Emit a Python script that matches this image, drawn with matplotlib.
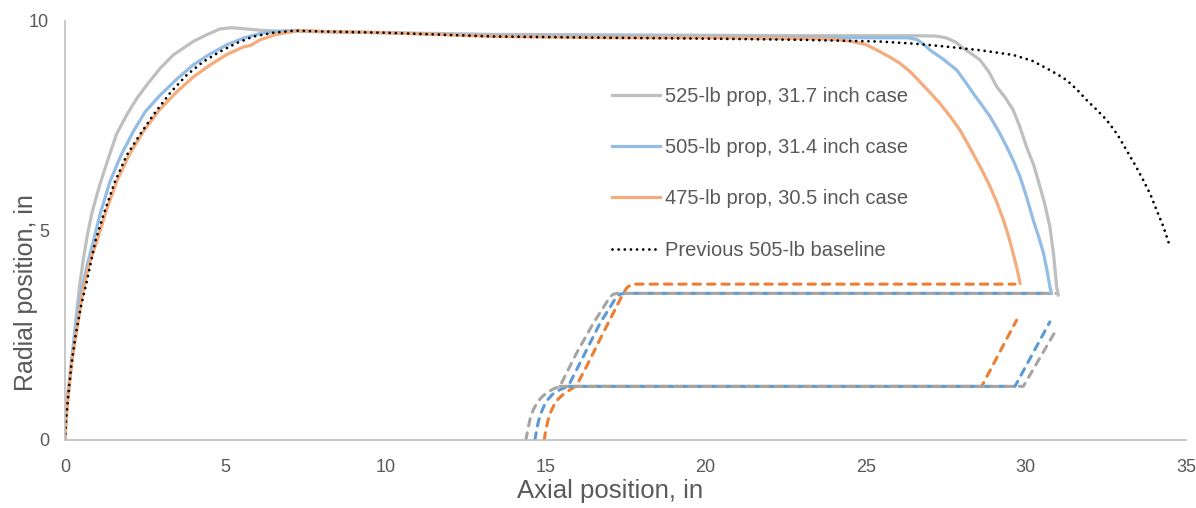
import matplotlib
matplotlib.use("Agg")
import matplotlib.pyplot as plt

plt.rcParams['font.family'] = ['Liberation Sans', 'DejaVu Sans']

# ---- data ----
x_525 = [0, 0.03, 0.08, 0.16, 0.26, 0.35, 0.45, 0.57, 0.7, 0.85, 1.09, 1.3, 1.61, 1.92, 2.24, 2.55,
         2.97, 3.38, 4.0, 4.42, 4.84, 5.2, 5.67, 6.09, 6.6, 7.2, 8, 10, 13.4, 17, 20, 23, 25, 26.5,
         27.2, 27.5, 27.8, 28.04, 28.3, 28.57, 28.85, 29.09, 29.35, 29.6, 29.8, 30.02, 30.25, 30.44,
         30.6, 30.75, 30.87, 30.96, 31.01]
y_525 = [0, 0.6, 1.1, 1.5, 2.19, 2.95, 3.65, 4.3, 4.9, 5.45, 6.1, 6.6, 7.3, 7.75, 8.15, 8.47,
         8.87, 9.19, 9.51, 9.67, 9.81, 9.84, 9.81, 9.78, 9.76, 9.76, 9.74, 9.72, 9.68, 9.67, 9.66,
         9.65, 9.65, 9.65, 9.64, 9.6, 9.5, 9.35, 9.22, 9.07, 8.78, 8.43, 8.18, 7.88, 7.5, 7.0, 6.55,
         6.05, 5.6, 5.09, 4.4, 3.66, 3.46]

x_505 = [0, 0.03, 0.1, 0.2, 0.31, 0.5, 0.7, 0.88, 1.1, 1.4, 1.75, 2.13, 2.5, 2.97, 3.5, 4.0, 4.5,
         5.05, 5.6, 6.09, 6.6, 7.2, 8, 10, 13.4, 17, 20, 23, 25, 26.3, 26.6, 26.8, 27.0, 27.4, 27.84,
         28.1, 28.36, 28.62, 28.88, 29.15, 29.4, 29.62, 29.82, 30.03, 30.23, 30.4, 30.55, 30.66,
         30.75, 30.8]
y_505 = [0, 0.5, 1.1, 1.9, 2.58, 3.5, 4.2, 4.73, 5.4, 6.16, 6.8, 7.36, 7.83, 8.23, 8.62, 8.95, 9.2,
         9.43, 9.6, 9.7, 9.75, 9.77, 9.75, 9.72, 9.65, 9.63, 9.62, 9.61, 9.6, 9.6, 9.56, 9.45, 9.31,
         9.1, 8.83, 8.56, 8.27, 8.0, 7.72, 7.37, 7.0, 6.65, 6.28, 5.78, 5.25, 4.85, 4.46, 4.05,
         3.66, 3.5]

x_475 = [0, 0.03, 0.1, 0.2, 0.36, 0.55, 0.75, 0.99, 1.3, 1.61, 2.0, 2.44, 2.95, 3.49, 4.0, 4.53,
         5.05, 5.57, 5.8, 6.09, 6.6, 7.3, 8, 10, 13.4, 17, 20, 23, 23.5, 24.0, 24.5, 25.0, 25.44,
         25.75, 26.07, 26.4, 26.69, 27.0, 27.32, 27.64, 27.94, 28.2, 28.46, 28.67, 28.88, 29.1, 29.3,
         29.46, 29.6, 29.72, 29.82]
y_475 = [0, 0.45, 1.05, 1.8, 2.58, 3.5, 4.2, 4.73, 5.5, 6.16, 6.8, 7.36, 7.88, 8.31, 8.66, 8.95,
         9.2, 9.38, 9.42, 9.55, 9.68, 9.77, 9.75, 9.72, 9.63, 9.6, 9.6, 9.58, 9.58, 9.56, 9.52, 9.44,
         9.27, 9.14, 8.99, 8.78, 8.55, 8.3, 8.03, 7.72, 7.4, 7.05, 6.68, 6.38, 6.05, 5.66, 5.25,
         4.86, 4.46, 4.1, 3.74]

x_base = [0, 0.03, 0.1, 0.2, 0.33, 0.5, 0.68, 0.95, 1.2, 1.55, 1.93, 2.35, 2.76, 3.3, 3.8, 4.3,
          4.84, 5.35, 5.88, 6.5, 7.2, 8, 10, 13.4, 17, 20, 23, 25.44, 26.5, 27.5, 28.6, 29.6, 30.2,
          30.65, 31.0, 31.27, 31.6, 31.9, 32.2, 32.52, 32.85, 33.14, 33.4, 33.66, 33.9, 34.08, 34.3,
          34.5]
y_base = [0, 0.45, 1.05, 1.8, 2.5, 3.2, 3.78, 4.75, 5.37, 6.15, 6.8, 7.3, 7.76, 8.3, 8.71, 9.02,
          9.27, 9.47, 9.63, 9.72, 9.77, 9.75, 9.72, 9.63, 9.6, 9.58, 9.55, 9.51, 9.46, 9.39, 9.3,
          9.19, 9.05, 8.87, 8.72, 8.59, 8.36, 8.11, 7.89, 7.64, 7.3, 6.92, 6.58, 6.21, 5.84, 5.49,
          5.08, 4.61]

# case / grain outlines (dashed, not in legend)
case525_up_x = [14.39, 14.45, 14.52, 14.62, 14.75, 14.88, 15.04, 15.25, 15.45, 15.97, 16.49, 17.02, 17.12, 17.25, 31.0]
case525_up_y = [0, 0.25, 0.5, 0.72, 0.9, 1.02, 1.13, 1.22, 1.28, 2.07, 2.78, 3.42, 3.48, 3.5, 3.5]
case525_lo_x = [15.45, 29.92, 30.91]
case525_lo_y = [1.28, 1.28, 2.58]

case505_up_x = [14.67, 14.72, 14.78, 14.86, 14.96, 15.08, 15.22, 15.45, 15.71, 16.18, 16.7, 17.22, 17.33, 17.48, 30.8]
case505_up_y = [0, 0.22, 0.44, 0.64, 0.82, 0.97, 1.09, 1.2, 1.28, 1.99, 2.78, 3.42, 3.48, 3.5, 3.5]
case505_lo_x = [15.71, 29.66, 30.75]
case505_lo_y = [1.28, 1.28, 2.82]

case475_up_x = [14.96, 15.01, 15.07, 15.15, 15.26, 15.4, 15.57, 15.77, 15.97, 16.28, 16.8, 17.43, 17.55, 17.7, 29.66]
case475_up_y = [0, 0.22, 0.44, 0.64, 0.82, 0.98, 1.1, 1.2, 1.3, 1.75, 2.55, 3.5, 3.64, 3.72, 3.72]
case475_lo_x = [15.97, 28.62, 29.71]
case475_lo_y = [1.28, 1.28, 2.86]

labels = ["525-lb prop, 31.7 inch case", "505-lb prop, 31.4 inch case",
          "475-lb prop, 30.5 inch case", "Previous 505-lb baseline"]
xticks = [0, 5, 10, 15, 20, 25, 30, 35]
yticks = [0, 5, 10]

# ---- plot ----
fig = plt.figure(figsize=(11.96, 5.08), dpi=100)
ax = fig.add_axes([65/1196, 68/508, 1121/1196, 419/508])

c_gray_s, c_blue_s, c_or_s = "#BFBFBF", "#93BDE4", "#F4AC7C"
c_gray_d, c_blue_d, c_or_d = "#A5A5A5", "#5B9BD5", "#ED7D31"

dash = dict(linestyle=(0, (2.4, 2.3)), linewidth=2.2, dash_capstyle='round')
ax.plot(case475_up_x, case475_up_y, color=c_or_d, **dash)
ax.plot(case475_lo_x, case475_lo_y, color=c_or_d, **dash)
ax.plot(case505_up_x, case505_up_y, color=c_blue_d, **dash)
ax.plot(case505_lo_x, case505_lo_y, color=c_blue_d, **dash)
ax.plot(case525_up_x, case525_up_y, color=c_gray_d, **dash)
ax.plot(case525_lo_x, case525_lo_y, color=c_gray_d, **dash)

h1, = ax.plot(x_525, y_525, color=c_gray_s, linewidth=2.3, label=labels[0])
h2, = ax.plot(x_505, y_505, color=c_blue_s, linewidth=2.3, label=labels[1])
h3, = ax.plot(x_475, y_475, color=c_or_s, linewidth=2.3, label=labels[2])
h4, = ax.plot(x_base, y_base, color="black", linewidth=2.0, linestyle=(0, (0.01, 2.2)),
              dash_capstyle='round', label=labels[3])

ax.set_xlim(0, 35)
ax.set_ylim(0, 10)
ax.set_xticks(xticks)
ax.set_yticks(yticks)
for s in ['top', 'right']:
    ax.spines[s].set_visible(False)
for s in ['left', 'bottom']:
    ax.spines[s].set_color("#BFBFBF")
    ax.spines[s].set_linewidth(1.2)
ax.tick_params(length=0, labelsize=13, labelcolor="#595959")
ax.tick_params(axis='x', pad=14)
ax.tick_params(axis='y', pad=11.5)

ax.set_xlabel("Axial position, in", fontsize=18.5, color="#595959")
ax.set_ylabel("Radial position, in", fontsize=18, color="#595959")
ax.xaxis.set_label_coords((610-65)/1121, (440-479)/419)
ax.yaxis.set_label_coords((38-65)/1121, (440-293)/419)

leg = fig.legend(handles=[h1, h2, h3, h4], loc='upper left',
                 bbox_to_anchor=(612/1196, 1-87/508), frameon=False,
                 fontsize=14.5, handlelength=2.4, handletextpad=0.25,
                 labelspacing=1.6, borderpad=0, borderaxespad=0)
for t in leg.get_texts():
    t.set_color("#595959")

fig.savefig("out.png", dpi=100)
